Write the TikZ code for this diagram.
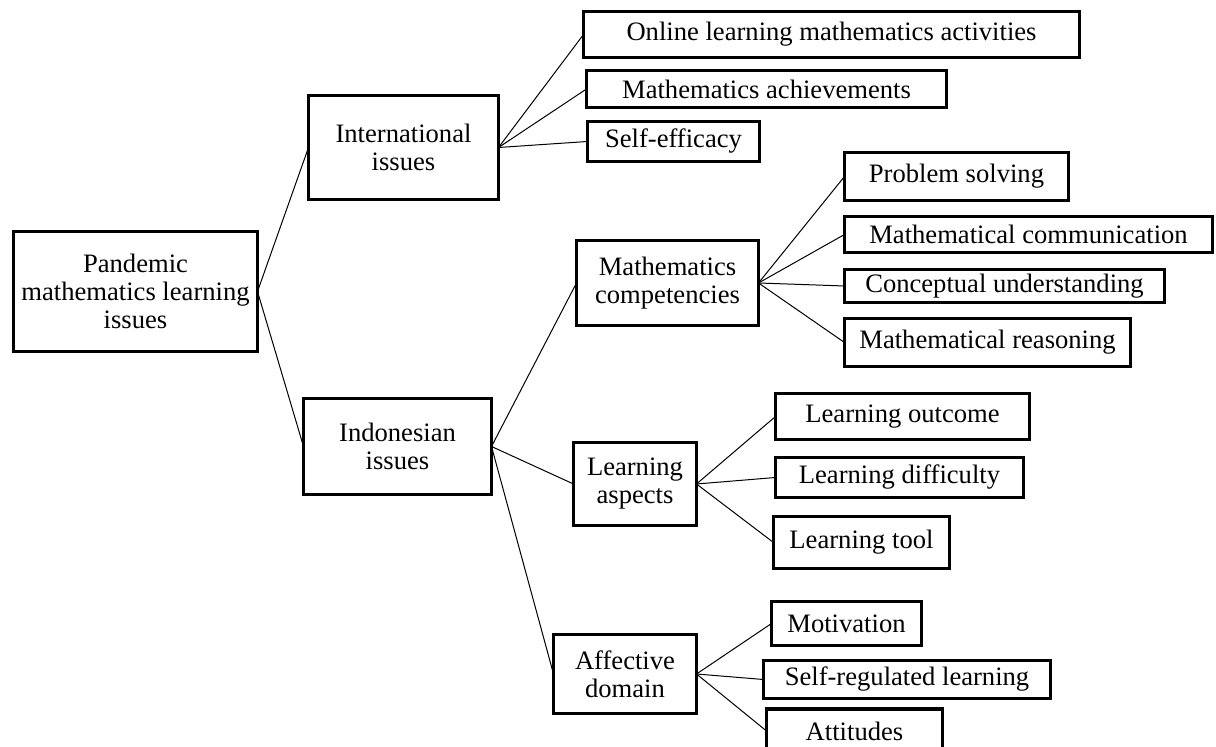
\documentclass[tikz,border=0pt]{standalone}
\usepackage{fontspec}
\setmainfont{Liberation Serif}
\begin{document}
\begin{tikzpicture}[x=0.5pt,y=-0.5pt,font=\fontsize{13.3}{14}\selectfont]
\tikzset{every node/.style={inner sep=0mm, outer sep=0mm}}

\tikzstyle{box}=[rectangle,draw=black,fill=white,line width=1.7pt,align=center]
\tikzstyle{link}=[draw=black,line width=0.5pt]

\useasboundingbox (0,0) rectangle (1216,747);

% root
\node[box, minimum width=122pt, minimum height=60pt] (pandemic) at (135.5,291.5) {Pandemic\\mathematics learning\\issues};

% second level
\node[box, minimum width=95pt, minimum height=52pt] (international) at (403.5,147.5) {International\\issues};
\node[box, minimum width=94pt, minimum height=48pt] (indonesian) at (397.5,446.5) {Indonesian\\issues};

% international issues
\node[box, minimum width=248pt, minimum height=23pt] (online) at (831.5,34.5) {Online learning mathematics activities};
\node[box, minimum width=180pt, minimum height=18.5pt] (achievements) at (766.5,89) {Mathematics achievements};
\node[box, minimum width=86pt, minimum height=20pt] (self efficacy) at (673.5,141.5) {Self-efficacy};

% indonesian issues
\node[box, minimum width=91pt, minimum height=42.5pt] (competencies) at (667.5,283) {Mathematics\\competencies};
\node[box, minimum width=61.5pt, minimum height=41.5pt] (aspects) at (635,484) {Learning\\aspects};
\node[box, minimum width=71.5pt, minimum height=39.5pt] (affective) at (625,674) {Affective\\domain};

% competencies
\node[box, minimum width=112pt, minimum height=24pt] (problem solving) at (956.5,176.5) {Problem solving};
\node[box, minimum width=184pt, minimum height=18pt] (communication) at (1028.5,234.5) {Mathematical communication};
\node[box, minimum width=160pt, minimum height=16.5pt] (understanding) at (1004.5,286) {Conceptual understanding};
\node[box, minimum width=143pt, minimum height=24pt] (reasoning) at (987.5,342.5) {Mathematical reasoning};

% learning aspects
\node[box, minimum width=127pt, minimum height=23pt] (outcome) at (902.5,416.5) {Learning outcome};
\node[box, minimum width=124pt, minimum height=20pt] (difficulty) at (899.5,477.5) {Learning difficulty};
\node[box, minimum width=88pt, minimum height=26pt] (tool) at (861.5,542.5) {Learning tool};

% affective domain
\node[box, minimum width=75pt, minimum height=22pt] (motivation) at (846.5,623.5) {Motivation};
\node[box, minimum width=143.5pt, minimum height=19pt] (self regulated) at (907,679.5) {Self-regulated learning};
\node[box, minimum width=88pt, minimum height=22pt] (attitudes) at (854.5,731) {Attitudes};

% connectors
\foreach \i in {international, indonesian} {
    \path[link] (pandemic.east) edge (\i.west);
};
\foreach \i in {online, achievements, self efficacy} {
    \path[link] (international.east) edge (\i.west);
};
\foreach \i in {competencies, aspects, affective} {
    \path[link] (indonesian.east) edge (\i.west);
};
\foreach \i in {problem solving, communication, understanding, reasoning} {
    \path[link] (competencies.east) edge (\i.west);
};
\foreach \i in {outcome, difficulty, tool} {
    \path[link] (aspects.east) edge (\i.west);
};
\foreach \i in {motivation, self regulated, attitudes} {
    \path[link] (affective.east) edge (\i.west);
};

\end{tikzpicture}
\end{document}
